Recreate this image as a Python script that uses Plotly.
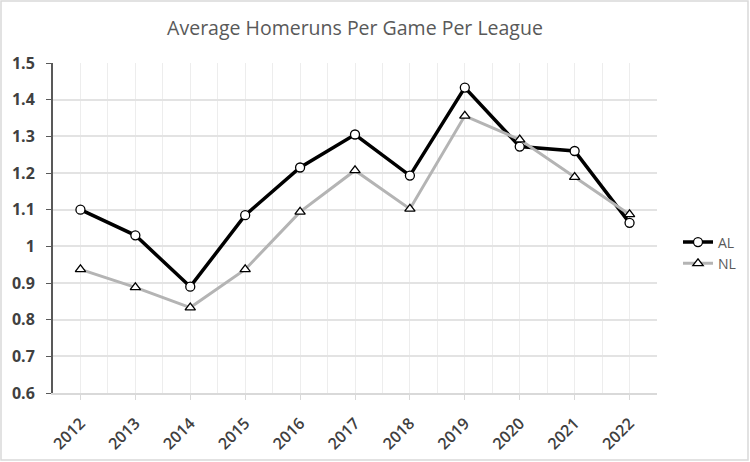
import plotly.graph_objects as go

years = [2012, 2013, 2014, 2015, 2016, 2017, 2018, 2019, 2020, 2021, 2022]
al = [1.10, 1.03, 0.89, 1.085, 1.215, 1.305, 1.193, 1.433, 1.272, 1.26, 1.064]
nl = [0.937, 0.888, 0.833, 0.937, 1.094, 1.207, 1.102, 1.356, 1.291, 1.189, 1.087]
title = "Average Homeruns Per Game Per League"

W, H = 750, 462
ml, mr, mt, mb = 53, 93, 63, 69
pw, ph = W - ml - mr, H - mt - mb

fig = go.Figure()
fig.add_trace(go.Scatter(
    x=years, y=al, name="AL", mode="lines+markers",
    line=dict(color="#000000", width=3.5),
    marker=dict(symbol="circle", size=9, color="white", line=dict(color="#000000", width=1.3)),
))
fig.add_trace(go.Scatter(
    x=years, y=nl, name="NL", mode="lines+markers",
    line=dict(color="#b4b4b4", width=3),
    marker=dict(symbol="triangle-up", size=9, color="white", line=dict(color="#000000", width=1.3)),
))

def px_x(p):
    return (p - ml) / pw

def px_y(p):
    return (H - mb - p) / ph

fig.add_shape(type="rect", xref="paper", yref="paper",
              x0=px_x(1), x1=px_x(748), y0=px_y(460), y1=px_y(1),
              line=dict(color="#d9d9d9", width=1.5), fillcolor="rgba(0,0,0,0)", layer="below")

fig.update_layout(
    width=W, height=H,
    margin=dict(l=ml, r=mr, t=mt, b=mb, autoexpand=False),
    paper_bgcolor="white", plot_bgcolor="white",
    title=dict(text=title, x=0.5, xref="paper", y=1 - 28 / H, yanchor="middle",
               font=dict(family="Open Sans", size=19.5, color="#595959")),
    showlegend=True,
    legend=dict(x=px_x(678), y=px_y(253), xanchor="left", yanchor="middle",
                font=dict(family="Open Sans", size=14, color="#595959"),
                itemwidth=30, tracegroupgap=4, bgcolor="rgba(0,0,0,0)"),
    font=dict(family="Open Sans", color="#595959"),
)
fig.update_xaxes(
    range=[2011.5, 2022.5], tickmode="array", tickvals=years, ticktext=[str(y) for y in years],
    tickangle=-45, tickfont=dict(family="Open Sans", size=16, color="#404040", weight=600),
    ticklabelstandoff=8, automargin=False,
    showgrid=True, gridcolor="#ededed", gridwidth=1,
    minor=dict(tickmode="linear", tick0=2011.5, dtick=1, showgrid=True, gridcolor="#ededed", gridwidth=1),
    showline=True, linecolor="#d9d9d9", linewidth=1.5,
    ticks="outside", ticklen=5, tickcolor="#d9d9d9", zeroline=False, fixedrange=True,
)
fig.update_yaxes(
    range=[0.6, 1.5], tickmode="linear", tick0=0.6, dtick=0.1,
    tickfont=dict(family="Open Sans", size=16, color="#404040", weight=700),
    ticklabelstandoff=8, automargin=False,
    showgrid=True, gridcolor="#e3e3e3", gridwidth=1.5,
    showline=True, linecolor="#595959", linewidth=2,
    ticks="outside", ticklen=5, tickcolor="#595959", zeroline=False,
)

fig.write_html("out.html")
